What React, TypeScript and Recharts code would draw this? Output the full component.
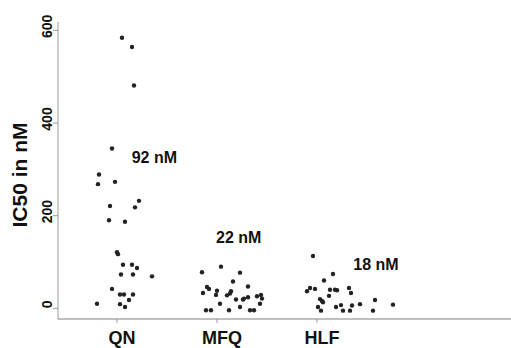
import React from "react";
import { ScatterChart, Scatter, XAxis, YAxis } from "recharts";

const categories = ["QN", "MFQ", "HLF"];
const categoryPositions = [1, 2, 3];
const yTicks = [0, 200, 400, 600];

const qnX = [1.05, 1.15, 1.17, 0.95, 0.82, 0.81, 0.98, 1.22, 1.18, 0.93, 0.92, 1.08, 1.0, 1.01, 1.06, 1.15, 1.2, 1.04, 1.16, 1.35, 0.95, 1.03, 1.07, 1.16, 1.12, 0.8, 1.03, 1.08];
const qnY = [584, 564, 481, 345, 289, 268, 273, 232, 218, 221, 190, 187, 121, 117, 94, 94, 87, 73, 73, 69, 42, 30, 30, 30, 18, 10, 9, 3];

const mfqX = [1.85, 2.04, 2.23, 2.16, 1.9, 1.92, 2.31, 2.0, 2.14, 2.13, 1.86, 1.99, 2.1, 2.4, 2.44, 2.45, 2.19, 2.26, 2.27, 2.31, 2.03, 2.43, 2.23, 1.89, 1.94, 2.12, 2.33, 2.37];
const mfqY = [78, 90, 77, 58, 46, 42, 47, 38, 37, 32, 33, 29, 28, 26, 29, 21, 19, 19, 21, 24, 10, 10, 3, -4, -4, -4, -4, -4];

const hlfX = [2.96, 3.16, 3.07, 2.93, 2.9, 2.98, 3.13, 3.18, 3.2, 3.32, 3.34, 3.12, 3.03, 3.05, 3.06, 3.01, 3.04, 3.19, 3.24, 3.26, 3.33, 3.35, 3.43, 3.58, 3.56, 3.76];
const hlfY = [113, 74, 60, 44, 37, 42, 40, 40, 39, 44, 33, 27, 20, 16, 13, 3, -5, 3, 7, -5, -5, 6, 9, 18, -5, 8];

const noteLabels = ["92 nM", "22 nM", "18 nM"];
const noteX = [1.147, 1.99, 3.363];
const noteY = [313, 141, 83];

const toPoints = (xs: number[], ys: number[]) => xs.map((x, i) => ({ x, y: ys[i] }));
const qnData = toPoints(qnX, qnY);
const mfqData = toPoints(mfqX, mfqY);
const hlfData = toPoints(hlfX, hlfY);
const noteData = noteLabels.map((label, i) => ({ x: noteX[i], y: noteY[i], label }));

const FONT = "'Liberation Sans', Arial, sans-serif";

const Dot = (p: any) => <circle cx={p.cx} cy={p.cy} r={2.2} fill="#222" />;

const Note = (p: any) => (
  <text x={p.cx} y={p.cy} fontFamily={FONT} fontSize={16} fontWeight="bold" fill="#111" textAnchor="start">
    {p.payload.label}
  </text>
);

const XTick = (p: any) => {
  const idx = categoryPositions.indexOf(p.payload.value);
  return (
    <text x={p.x + 5} y={344} fontFamily={FONT} fontSize={18} fontWeight="bold" fill="#111" textAnchor="middle">
      {categories[idx]}
    </text>
  );
};

const YTick = (p: any) => {
  const cx = 52;
  const cy = p.y - 4;
  return (
    <text x={cx} y={cy} transform={`rotate(-90, ${cx}, ${cy})`} fontFamily={FONT} fontSize={14} fontWeight="bold" fill="#111" textAnchor="middle">
      {p.payload.value}
    </text>
  );
};

const YLabel = () => (
  <text x={27} y={175} transform="rotate(-90, 27, 175)" fontFamily={FONT} fontSize={21} fontWeight="bold" fill="#111" textAnchor="middle">
    IC50 in nM
  </text>
);

export default function App() {
  return (
    <div style={{ position: "absolute", left: 0, top: 0, width: 511, height: 348, background: "#fff" }}>
      <ScatterChart width={511} height={348} margin={{ top: 22, right: 0, bottom: 0, left: 0 }}>
        <XAxis
          type="number"
          dataKey="x"
          domain={[0.41, 4.94]}
          ticks={categoryPositions}
          allowDataOverflow
          height={29}
          stroke="#aaa"
          strokeWidth={1.5}
          tickSize={4}
          tick={<XTick />}
          tickLine={{ stroke: "#999", strokeWidth: 1 }}
        />
        <YAxis
          type="number"
          dataKey="y"
          domain={[-23, 618]}
          ticks={yTicks}
          allowDataOverflow
          width={58}
          stroke="#999"
          tickSize={5}
          tick={<YTick />}
          label={{ content: <YLabel /> }}
        />
        <Scatter data={qnData} shape={<Dot />} isAnimationActive={false} />
        <Scatter data={mfqData} shape={<Dot />} isAnimationActive={false} />
        <Scatter data={hlfData} shape={<Dot />} isAnimationActive={false} />
        <Scatter data={noteData} shape={<Note />} isAnimationActive={false} />
      </ScatterChart>
    </div>
  );
}
